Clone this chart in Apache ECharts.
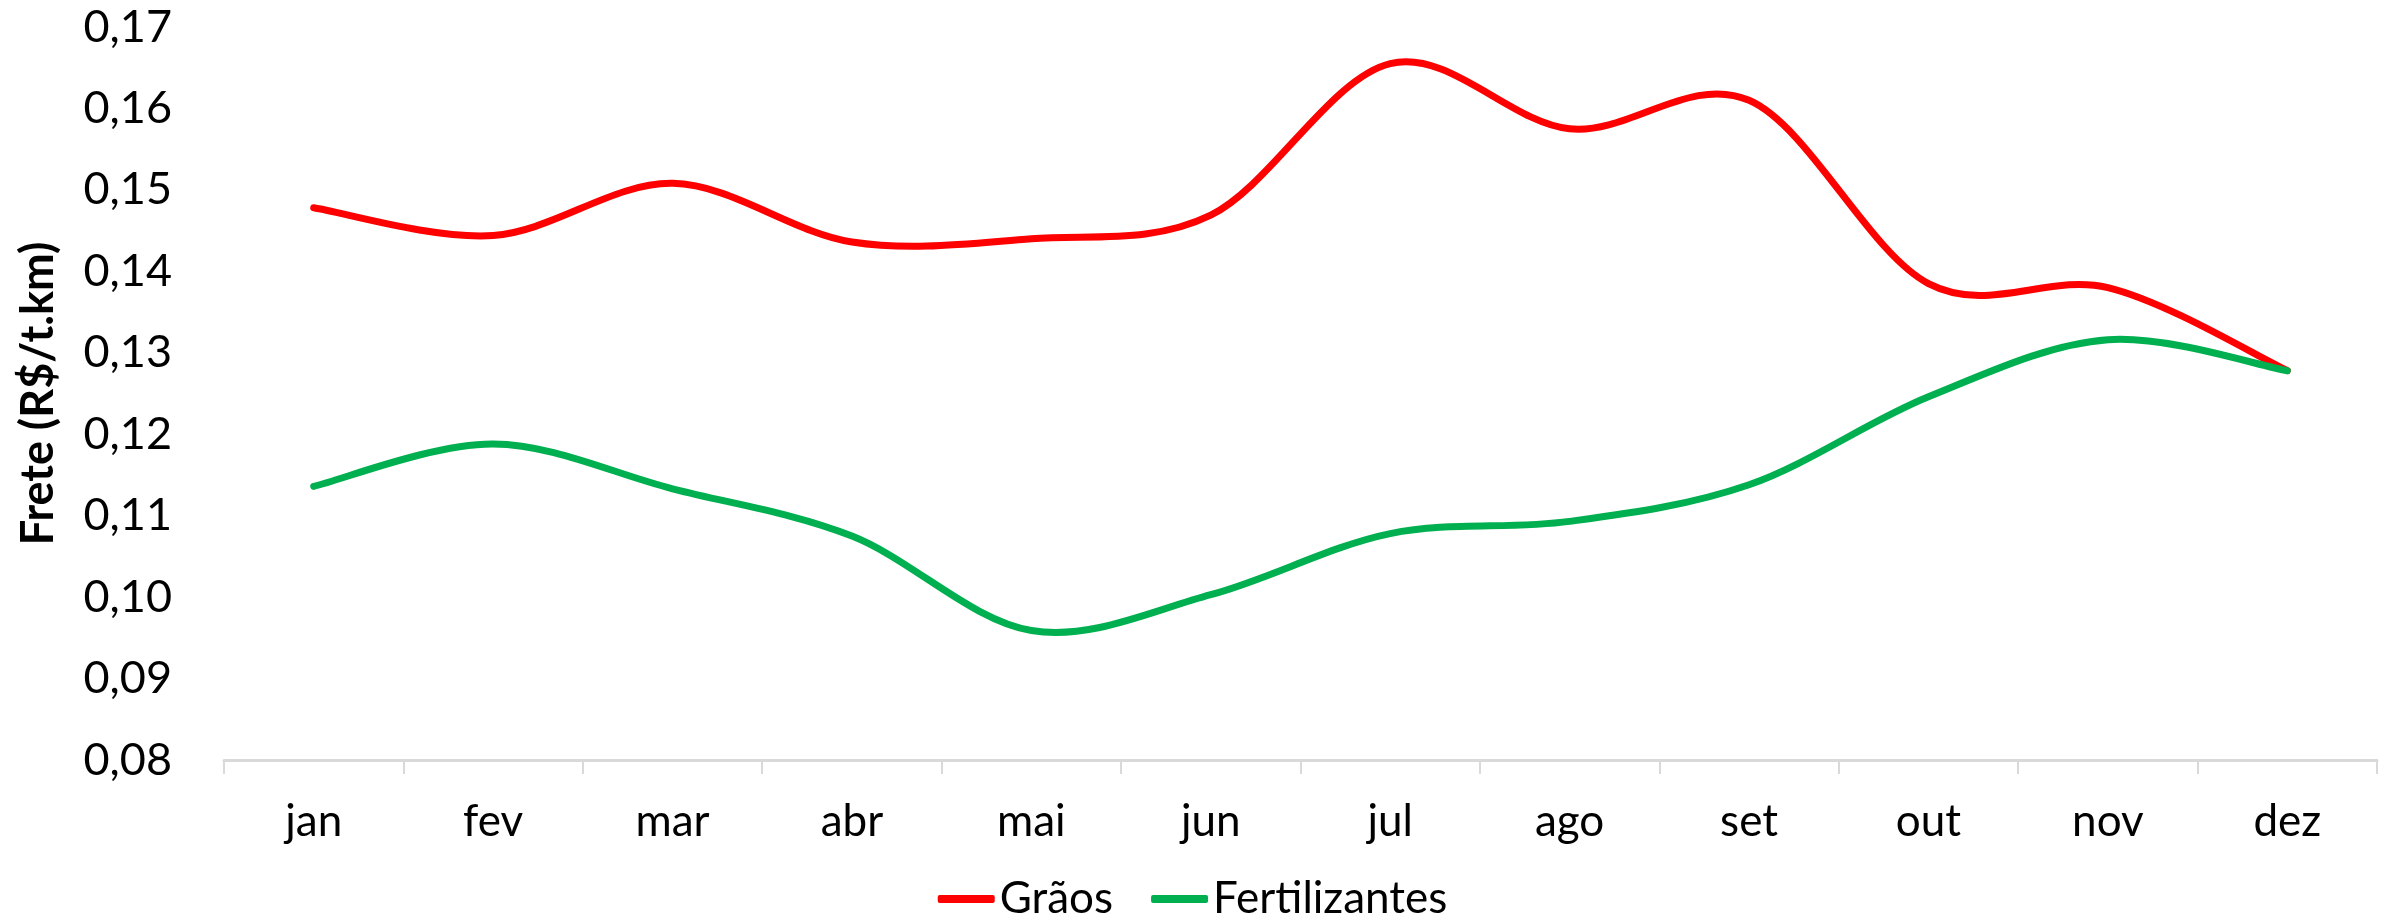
<!DOCTYPE html>
<html>
<head>
<meta charset="utf-8">
<script src="https://cdn.jsdelivr.net/npm/echarts@6/dist/echarts.min.js"></script>
<style>
  html, body { margin: 0; padding: 0; background: #fff; }
  #chart { width: 2385px; height: 922px; }
</style>
</head>
<body>
<div id="chart"></div>
<script>
const categories = ['jan', 'fev', 'mar', 'abr', 'mai', 'jun', 'jul', 'ago', 'set', 'out', 'nov', 'dez'];
const graos = [0.1478, 0.1444, 0.1508, 0.1436, 0.1440, 0.1469, 0.1655, 0.1575, 0.1610, 0.1385, 0.1380, 0.1278];
const fertilizantes = [0.1136, 0.1188, 0.1133, 0.1075, 0.0959, 0.1003, 0.1078, 0.1093, 0.1138, 0.1246, 0.1316, 0.1278];
const seriesNames = ['Grãos', 'Fertilizantes'];
const seriesColors = ['#FF0000', '#00B050'];
const yTitle = 'Frete (R$/t.km)';

const FONT = 'Lato, "Open Sans", "Noto Sans", sans-serif';

// Excel-like smoothed line (Catmull-Rom Bezier), points placed via the axes' scales
function smoothRenderer(values, color) {
  return function (params, api) {
    if (params.dataIndex !== 0) return null;
    const p = values.map((v, i) => api.coord([i, v]));
    const n = p.length;
    let d = 'M' + p[0][0] + ' ' + p[0][1];
    for (let i = 0; i < n - 1; i++) {
      const p0 = p[Math.max(i - 1, 0)], p1 = p[i], p2 = p[i + 1], p3 = p[Math.min(i + 2, n - 1)];
      const c1x = p1[0] + (p2[0] - p0[0]) / 6, c1y = p1[1] + (p2[1] - p0[1]) / 6;
      const c2x = p2[0] - (p3[0] - p1[0]) / 6, c2y = p2[1] - (p3[1] - p1[1]) / 6;
      d += ' C' + c1x + ' ' + c1y + ' ' + c2x + ' ' + c2y + ' ' + p2[0] + ' ' + p2[1];
    }
    return {
      type: 'path',
      shape: { pathData: d },
      style: { fill: 'none', stroke: color, lineWidth: 7, lineCap: 'round', lineJoin: 'round' },
      silent: true
    };
  };
}

const chart = echarts.init(document.getElementById('chart'));
chart.setOption({
  animation: false,
  grid: { left: 224, right: 8, top: 27, bottom: 162, containLabel: false, outerBoundsMode: 'none' },
  legend: {
    data: seriesNames.map((nm, i) => ({ name: nm, itemStyle: { color: seriesColors[i] } })),
    left: 'center',
    top: 872,
    icon: 'roundRect',
    itemWidth: 57,
    itemHeight: 8,
    itemGap: 38,
    textStyle: { fontFamily: FONT, fontSize: 44, color: '#000' }
  },
  xAxis: {
    type: 'category',
    data: categories,
    boundaryGap: true,
    axisLine: { show: true, lineStyle: { color: '#d9d9d9', width: 3 } },
    axisTick: { show: true, length: 14, lineStyle: { color: '#d9d9d9', width: 2 } },
    axisLabel: { fontFamily: FONT, fontSize: 44, color: '#000', margin: 40 }
  },
  yAxis: {
    type: 'value',
    min: 0.08,
    max: 0.17,
    interval: 0.01,
    name: yTitle,
    nameLocation: 'middle',
    nameGap: 163,
    nameTextStyle: { fontFamily: FONT, fontSize: 45, fontWeight: 'bold', color: '#000' },
    axisLine: { show: false },
    axisTick: { show: false },
    splitLine: { show: false },
    axisLabel: {
      fontFamily: FONT, fontSize: 45, color: '#000', margin: 52,
      formatter: v => (Math.round(v * 100) / 100).toFixed(2).replace('.', ',')
    }
  },
  series: [
    {
      name: seriesNames[0], type: 'custom', data: graos.map((v, i) => [i, v]),
      encode: { x: 0, y: 1 }, itemStyle: { color: seriesColors[0] },
      renderItem: smoothRenderer(graos, seriesColors[0])
    },
    {
      name: seriesNames[1], type: 'custom', data: fertilizantes.map((v, i) => [i, v]),
      encode: { x: 0, y: 1 }, itemStyle: { color: seriesColors[1] },
      renderItem: smoothRenderer(fertilizantes, seriesColors[1])
    }
  ]
});
</script>
</body>
</html>
